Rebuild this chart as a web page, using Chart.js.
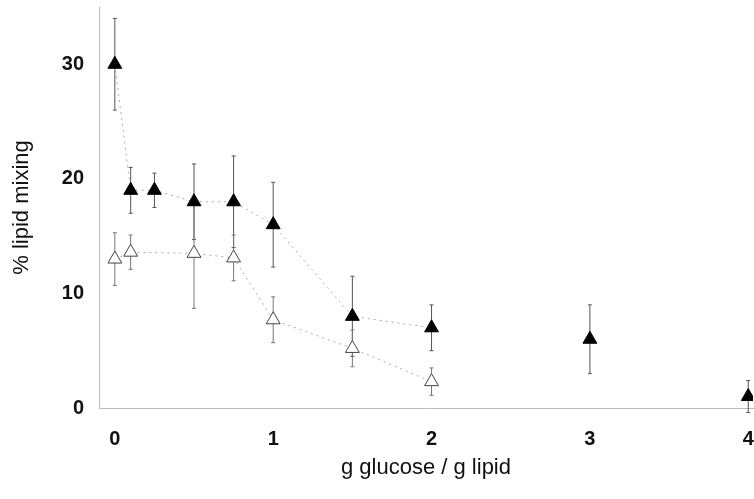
<!DOCTYPE html>
<html>
<head>
<meta charset="utf-8">
<script src="https://cdn.jsdelivr.net/npm/chart.js@4.4.1/dist/chart.umd.min.js"></script>
<style>
  html, body { margin: 0; padding: 0; background: #fff; }
  #wrap { width: 754px; height: 499px; }
</style>
</head>
<body>
<div id="wrap"><canvas id="myChart" width="754" height="499"></canvas></div>
<script>
// filled triangles
var filled_x   = [0, 0.1, 0.25, 0.5, 0.75, 1, 1.5, 2, 3, 4];
var filled_y   = [30, 19, 19, 18, 18, 16, 8, 7, 6, 1];
var filled_err = [4, 2, 1.5, 3.3, 4, 3.7, 3.5, 2, 3, 1.4];

// open triangles
var open_x   = [0, 0.1, 0.5, 0.75, 1, 1.5, 2];
var open_y   = [13, 13.6, 13.5, 13.1, 7.7, 5.2, 2.3];
var open_err = [2.3, 1.5, 4.8, 2, 2, 1.6, 1.2];

var x_ticks = [0, 1, 2, 3, 4];
var y_ticks = [0, 10, 20, 30];

function toPoints(xs, ys) {
  return xs.map(function (x, i) { return {x: x, y: ys[i]}; });
}

var errorBars = {
  id: 'errorBars',
  beforeDatasetsDraw: function (chart) {
    var ctx = chart.ctx;
    var ys = chart.scales.y;
    chart.data.datasets.forEach(function (ds, di) {
      if (!ds.err) return;
      var meta = chart.getDatasetMeta(di);
      ctx.save();
      ctx.strokeStyle = ds.errColor;
      ctx.lineWidth = 1;
      meta.data.forEach(function (pt, i) {
        var v = ds.data[i].y, e = ds.err[i];
        var top = ys.getPixelForValue(v + e);
        var bot = ys.getPixelForValue(v - e);
        ctx.beginPath();
        ctx.moveTo(pt.x, top);
        ctx.lineTo(pt.x, bot);
        ctx.moveTo(pt.x - 2, top);
        ctx.lineTo(pt.x + 2, top);
        ctx.moveTo(pt.x - 2, bot);
        ctx.lineTo(pt.x + 2, bot);
        ctx.stroke();
      });
      ctx.restore();
    });
  }
};

var tickFont = {family: 'Liberation Sans', size: 20, weight: 'bold'};
var titleFont = {family: 'Liberation Sans', size: 22};

var ctx = document.getElementById("myChart");
var myChart = new Chart(ctx, {
  type: 'scatter',
  data: {
    datasets: [
      {
        label: 'filled',
        data: toPoints(filled_x, filled_y),
        err: filled_err,
        errColor: '#555',
        showLine: true,
        borderColor: '#aaa',
        borderWidth: 1,
        borderDash: [2, 4],
        segment: {
          borderColor: function (c) { return c.p0.parsed.x >= 2 ? 'rgba(0,0,0,0)' : '#aaa'; }
        },
        pointStyle: 'triangle',
        pointRadius: 8,
        pointBackgroundColor: '#000',
        pointBorderColor: '#000',
        pointBorderWidth: 1
      },
      {
        label: 'open',
        data: toPoints(open_x, open_y),
        err: open_err,
        errColor: '#777',
        showLine: true,
        borderColor: '#aaa',
        borderWidth: 1,
        borderDash: [2, 4],
        pointStyle: 'triangle',
        pointRadius: 8,
        pointBackgroundColor: '#fff',
        pointBorderColor: '#444',
        pointBorderWidth: 1
      }
    ]
  },
  options: {
    responsive: false,
    animation: false,
    layout: {autoPadding: false, padding: {top: 7, right: 1, left: 0, bottom: 0}},
    plugins: {legend: {display: false}, tooltip: {enabled: false}},
    scales: {
      x: {
        type: 'linear',
        min: -0.1,
        max: 4.03,
        afterBuildTicks: function (s) { s.ticks = x_ticks.map(function (v) { return {value: v}; }); },
        grid: {display: false},
        border: {display: true, color: '#bbb', dash: [2, 3]},
        ticks: {font: tickFont, color: '#111', padding: 11},
        title: {display: true, text: 'g glucose / g lipid', font: titleFont, color: '#111', padding: {top: 4, bottom: 18}},
        afterFit: function (s) { s.height = 91; s.paddingLeft = 0; s.paddingRight = 0; }
      },
      y: {
        min: 0,
        max: 35,
        afterBuildTicks: function (s) { s.ticks = y_ticks.map(function (v) { return {value: v}; }); },
        grid: {display: false},
        border: {display: true, color: '#bbb', dash: [3, 2]},
        ticks: {font: tickFont, color: '#111', padding: 7},
        title: {display: true, text: '% lipid mixing', font: titleFont, color: '#111', padding: {top: 9, bottom: 0}},
        afterFit: function (s) { s.width = 99; s.paddingTop = 0; s.paddingBottom = 0; }
      }
    }
  },
  plugins: [errorBars]
});
</script>
</body>
</html>
